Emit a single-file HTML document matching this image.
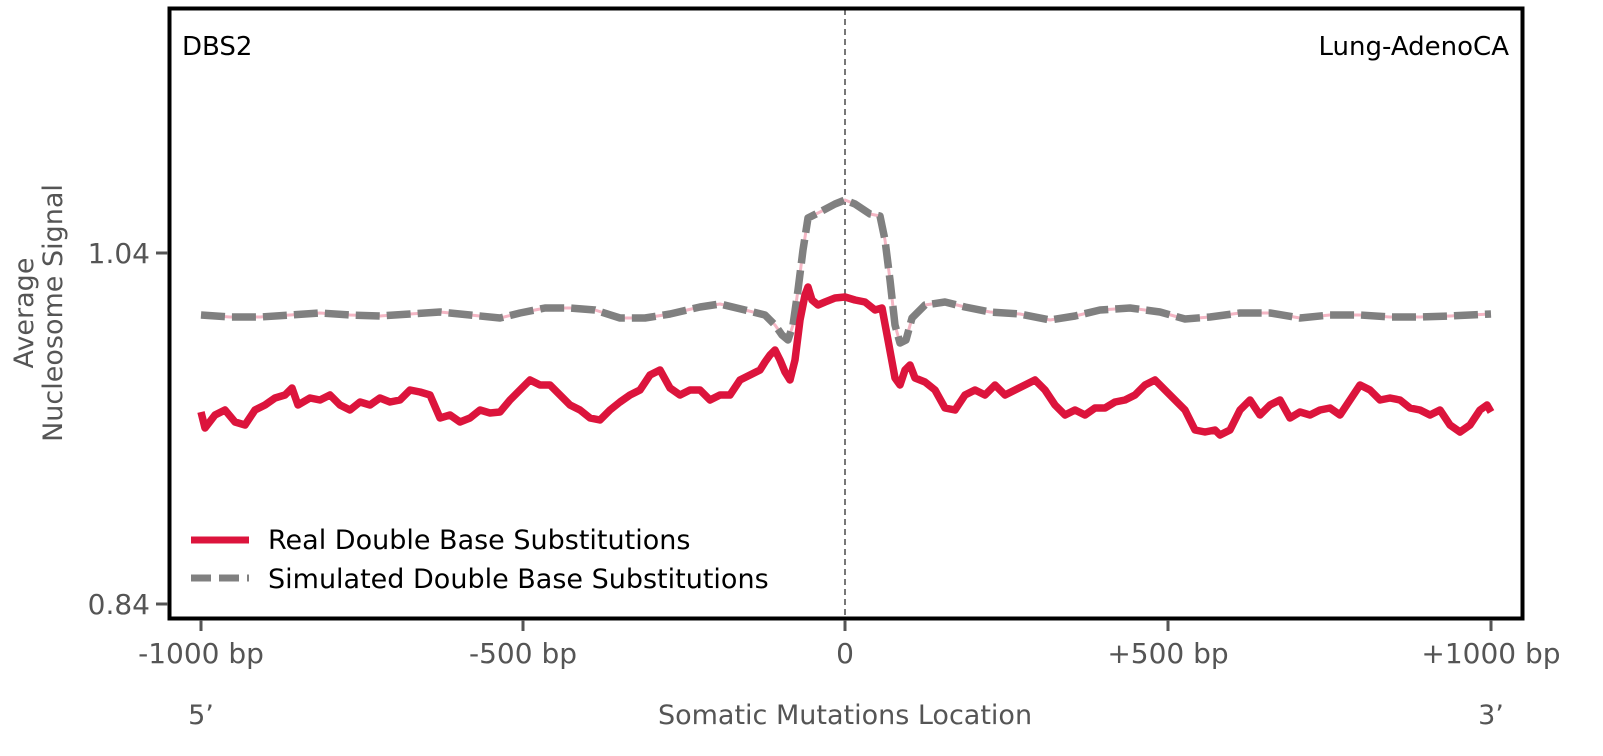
<!DOCTYPE html>
<html><head><meta charset="utf-8"><style>
html,body{margin:0;padding:0;background:#fff}
svg{display:block;font-family:"DejaVu Sans","Liberation Sans",sans-serif}
</style></head><body>
<svg width="1603" height="756" viewBox="0 0 1603 756" xmlns="http://www.w3.org/2000/svg">
<rect x="0" y="0" width="1603" height="756" fill="#fff"/>
<line x1="845" y1="9" x2="845" y2="618" stroke="#777" stroke-width="2" stroke-dasharray="6,4"/>
<g fill="none" stroke-linejoin="round">
<polyline stroke="#f4b6c4" stroke-width="3" points="201,315 230,317 260,317 290,315 320,313 350,315 380,316 410,314 440,312 470,315 500,318 520,313 545,308 570,308 595,310 620,318 645,318 670,314 700,307 720,304 745,310 765,315 775,325 782,335 788,340 793,325 798,290 803,250 808,218 820,212 835,204 845,200 855,204 870,214 880,216 885,240 890,280 895,325 900,343 906,340 912,318 925,305 945,302 965,307 990,312 1020,314 1050,320 1075,316 1100,310 1130,308 1160,312 1185,319 1210,317 1240,313 1270,313 1300,318 1330,315 1360,315 1390,317 1420,317 1450,316 1491,314"/>
<polyline stroke="#808080" stroke-width="7.5" stroke-dasharray="24,7" points="201,315 230,317 260,317 290,315 320,313 350,315 380,316 410,314 440,312 470,315 500,318 520,313 545,308 570,308 595,310 620,318 645,318 670,314 700,307 720,304 745,310 765,315 775,325 782,335 788,340 793,325 798,290 803,250 808,218 820,212 835,204 845,200 855,204 870,214 880,216 885,240 890,280 895,325 900,343 906,340 912,318 925,305 945,302 965,307 990,312 1020,314 1050,320 1075,316 1100,310 1130,308 1160,312 1185,319 1210,317 1240,313 1270,313 1300,318 1330,315 1360,315 1390,317 1420,317 1450,316 1491,314"/>
<polyline stroke="#dc143c" stroke-width="7.5" points="201,412 205,428 215,415 225,410 235,422 245,425 255,410 265,405 275,398 285,395 292,388 298,405 310,398 320,400 330,395 340,405 350,410 360,402 370,405 380,398 390,402 400,400 410,390 420,392 430,395 440,418 450,415 460,422 470,418 480,410 490,413 500,412 510,400 520,390 530,380 540,385 550,385 560,395 570,405 580,410 590,418 600,420 610,410 620,402 630,395 640,390 650,375 660,370 670,388 680,395 690,390 700,390 710,400 720,395 730,395 740,380 750,375 760,370 765,362 770,355 775,350 780,360 785,372 790,380 795,360 800,320 805,295 808,287 812,300 818,305 825,302 835,298 845,297 855,300 865,302 875,310 882,308 888,340 895,378 900,385 905,370 910,365 915,378 925,382 935,390 945,408 955,410 965,395 975,390 985,395 995,385 1005,395 1015,390 1025,385 1035,380 1045,390 1055,405 1065,415 1075,410 1085,415 1095,408 1105,408 1115,402 1125,400 1135,395 1145,385 1155,380 1165,390 1175,400 1185,410 1195,430 1205,432 1215,430 1220,435 1230,430 1240,410 1250,400 1260,415 1270,405 1280,400 1290,418 1300,412 1310,415 1320,410 1330,408 1340,415 1350,400 1360,385 1370,390 1380,400 1390,398 1400,400 1410,408 1420,410 1430,415 1440,410 1450,425 1460,432 1470,425 1480,410 1487,405 1491,412"/>
</g>
<rect x="169.5" y="8.5" width="1353" height="610" fill="none" stroke="#000" stroke-width="4"/>
<line x1="156" y1="253" x2="168" y2="253" stroke="#555" stroke-width="3"/>
<line x1="156" y1="604" x2="168" y2="604" stroke="#555" stroke-width="3"/>
<g fill="#555" font-size="28" text-anchor="end">
<text x="150" y="263">1.04</text>
<text x="150" y="614">0.84</text>
</g>
<g stroke="#555" stroke-width="3">
<line x1="201" y1="620" x2="201" y2="631"/><line x1="523" y1="620" x2="523" y2="631"/>
<line x1="845" y1="620" x2="845" y2="631"/><line x1="1168" y1="620" x2="1168" y2="631"/>
<line x1="1491" y1="620" x2="1491" y2="631"/>
</g>
<g fill="#555" font-size="28" text-anchor="middle">
<text x="201" y="663">-1000 bp</text><text x="523" y="663">-500 bp</text>
<text x="845" y="663">0</text><text x="1168" y="663">+500 bp</text><text x="1491" y="663">+1000 bp</text>
</g>
<g fill="#555" font-size="27" text-anchor="middle">
<text x="201" y="724">5’</text><text x="1491" y="724">3’</text>
<text x="845" y="724">Somatic Mutations Location</text>
<text transform="translate(33,313) rotate(-90)">Average</text>
<text transform="translate(62,313) rotate(-90)">Nucleosome Signal</text>
</g>
<text x="182" y="55" font-size="26" fill="#000">DBS2</text>
<text x="1509" y="55" font-size="26" fill="#000" text-anchor="end">Lung-AdenoCA</text>
<line x1="191" y1="540" x2="249" y2="540" stroke="#dc143c" stroke-width="7"/>
<line x1="191" y1="578" x2="249" y2="578" stroke="#808080" stroke-width="7" stroke-dasharray="20,8"/>
<g font-size="27" fill="#000">
<text x="268" y="549">Real Double Base Substitutions</text>
<text x="268" y="588">Simulated Double Base Substitutions</text>
</g>
</svg>
</body></html>
